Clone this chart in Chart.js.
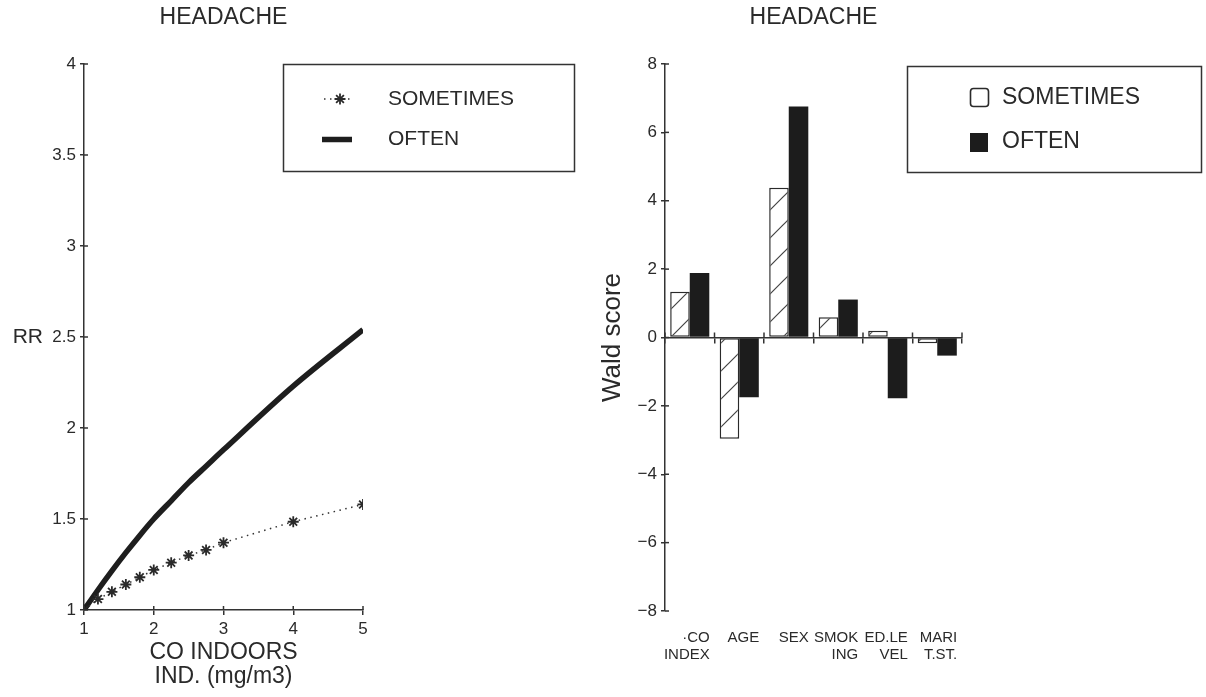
<!DOCTYPE html>
<html>
<head>
<meta charset="utf-8">
<script src="https://cdn.jsdelivr.net/npm/chart.js@4.4.1/dist/chart.umd.min.js"></script>
<style>
  html, body { margin: 0; padding: 0; background: #ffffff; }
  #wrap { position: relative; width: 1206px; height: 697px; overflow: hidden; background: #fff; }
  #left { position: absolute; left: 0; top: 0; }
  #right { position: absolute; left: 560px; top: 0; }
</style>
</head>
<body>
<div id="wrap">
  <canvas id="left" width="600" height="697"></canvas>
  <canvas id="right" width="646" height="697"></canvas>
</div>
<script>
// ---------- DATA ----------
const chartTitle = 'HEADACHE';
const seriesNames = ['SOMETIMES', 'OFTEN'];

// Left panel: relative risk vs CO indoors index
const coIndoors   = [1, 1.2, 1.4, 1.6, 1.8, 2, 2.25, 2.5, 2.75, 3, 4, 5];
const rrSometimes = [1.0, 1.06, 1.10, 1.14, 1.18, 1.22, 1.26, 1.30, 1.33, 1.37, 1.485, 1.58];
const rrOften     = [1.0, 1.11, 1.215, 1.315, 1.41, 1.50, 1.60, 1.70, 1.79, 1.88, 2.23, 2.54];
const rrAxis = { min: 1, max: 4, step: 0.5 };
const coAxis = { min: 1, max: 5, step: 1 };
const xTitleLeft = ['CO INDOORS', 'IND. (mg/m3)'];
const yTitleLeft = 'RR';

// Right panel: Wald scores per factor
const factors = [['\u00B7CO', 'INDEX'], 'AGE', 'SEX', ['SMOK', 'ING'], ['ED.LE', 'VEL'], ['MARI', 'T.ST.']];
const waldSometimes = [1.34, -2.96, 4.38, 0.59, 0.20, -0.17];
const waldOften     = [1.89, -1.75, 6.76, 1.11, -1.78, -0.53];
const waldAxis = { min: -8, max: 8, step: 2 };
const yTitleRight = 'Wald score';

// ---------- STYLE ----------
const FONT = "'Liberation Sans', Arial, Helvetica, sans-serif";
const INK = '#2a2a2a';
const AXC = '#333333';
Chart.defaults.font.family = FONT;
Chart.defaults.color = INK;

function line(ctx, x1, y1, x2, y2) { ctx.beginPath(); ctx.moveTo(x1, y1); ctx.lineTo(x2, y2); ctx.stroke(); }

function hatchPattern(ctx) {
  const s = 28;
  const c = document.createElement('canvas');
  c.width = s; c.height = s;
  const g = c.getContext('2d');
  g.fillStyle = '#ffffff';
  g.fillRect(0, 0, s, s);
  g.strokeStyle = '#444444';
  g.lineWidth = 1.2;
  g.beginPath();
  g.moveTo(-2, s + 2); g.lineTo(s + 2, -2);
  g.moveTo(-2, 2); g.lineTo(2, -2);
  g.moveTo(s - 2, s + 2); g.lineTo(s + 2, s - 2);
  g.stroke();
  return ctx.createPattern(c, 'repeat');
}

const titlePlugin = {
  id: 'panelTitle',
  afterDraw(chart) {
    const { ctx, chartArea: a } = chart;
    ctx.save();
    ctx.fillStyle = INK;
    ctx.font = '23px ' + FONT;
    ctx.textAlign = 'center';
    ctx.textBaseline = 'middle';
    ctx.fillText(chartTitle, (a.left + a.right) / 2, 18);
    ctx.restore();
  }
};

// ---------- LEFT CHART ----------
const leftCtx = document.getElementById('left').getContext('2d');

const leftDecor = {
  id: 'leftDecor',
  afterDraw(chart) {
    const { ctx, chartArea: a, scales: { x, y } } = chart;
    ctx.save();
    ctx.strokeStyle = AXC;
    ctx.lineWidth = 1.5;
    x.ticks.forEach((t, i) => { const p = x.getPixelForTick(i); line(ctx, p, a.bottom, p, a.bottom - 4); });
    y.ticks.forEach((t, i) => { const p = y.getPixelForTick(i); line(ctx, a.left, p, a.left + 4, p); });
    // RR label
    ctx.fillStyle = INK;
    ctx.font = '21px ' + FONT;
    ctx.textAlign = 'right';
    ctx.textBaseline = 'middle';
    ctx.fillText(yTitleLeft, 43, y.getPixelForValue(2.5));
    // legend box
    ctx.lineWidth = 1.5;
    ctx.strokeRect(283.5, 64.5, 291, 107);
    const ds = chart.data.datasets;
    // Sometimes symbol
    ctx.save();
    ctx.strokeStyle = ds[0].borderColor;
    ctx.lineWidth = 1.5;
    ctx.setLineDash(ds[0].borderDash);
    line(ctx, 324, 99, 353, 99);
    ctx.restore();
    ctx.strokeStyle = ds[0].pointBorderColor;
    ctx.fillStyle = ds[0].pointBackgroundColor;
    ctx.lineWidth = ds[0].pointBorderWidth;
    Chart.helpers.drawPoint(ctx, { pointStyle: 'star', radius: ds[0].pointRadius, borderWidth: ds[0].pointBorderWidth }, 340, 99);
    // Often symbol
    ctx.strokeStyle = ds[1].borderColor;
    ctx.lineWidth = ds[1].borderWidth;
    line(ctx, 322, 139.5, 352, 139.5);
    ctx.fillStyle = INK;
    ctx.font = '21px ' + FONT;
    ctx.textAlign = 'left';
    ctx.fillText(seriesNames[0], 388, 99);
    ctx.fillText(seriesNames[1], 388, 139.5);
    ctx.restore();
  }
};

new Chart(leftCtx, {
  type: 'line',
  data: {
    datasets: [
      {
        label: seriesNames[0],
        data: coIndoors.map((v, i) => ({ x: v, y: rrSometimes[i] })),
        borderColor: '#333333',
        borderWidth: 1.5,
        borderDash: [1.5, 4.5],
        pointStyle: 'star',
        pointRadius: 5.5,
        pointBorderWidth: 1.8,
        pointBorderColor: '#2a2a2a',
        pointBackgroundColor: '#2a2a2a',
        tension: 0,
        fill: false
      },
      {
        label: seriesNames[1],
        data: coIndoors.map((v, i) => ({ x: v, y: rrOften[i] })),
        borderColor: '#1e1e1e',
        borderWidth: 5.5,
        pointRadius: 0,
        cubicInterpolationMode: 'monotone',
        fill: false
      }
    ]
  },
  options: {
    responsive: false,
    animation: false,
    events: [],
    layout: { padding: { top: 64, right: 237, left: 0, bottom: 0 } },
    plugins: { legend: { display: false }, tooltip: { enabled: false } },
    scales: {
      x: {
        type: 'linear',
        min: coAxis.min, max: coAxis.max,
        afterFit(s) { s.height = 87; },
        ticks: { stepSize: coAxis.step, font: { size: 17 }, padding: 4, color: INK, callback: v => String(v) },
        grid: { display: true, drawOnChartArea: false, tickLength: 5, color: AXC, lineWidth: 1.5 },
        border: { display: true, color: AXC, width: 1.5 },
        title: { display: true, text: xTitleLeft, font: { size: 23, lineHeight: '24px' }, padding: { top: 0, bottom: 8 }, color: INK }
      },
      y: {
        type: 'linear',
        min: rrAxis.min, max: rrAxis.max,
        afterFit(s) { s.width = 84; },
        ticks: { stepSize: rrAxis.step, font: { size: 17 }, padding: 4, color: INK, callback: v => String(v) },
        grid: { display: true, drawOnChartArea: false, tickLength: 4, color: AXC, lineWidth: 1.5 },
        border: { display: true, color: AXC, width: 1.5 }
      }
    }
  },
  plugins: [titlePlugin, leftDecor]
});

// ---------- RIGHT CHART ----------
const rightCtx = document.getElementById('right').getContext('2d');
const hatch = hatchPattern(rightCtx);

const rightDecor = {
  id: 'rightDecor',
  afterDraw(chart) {
    const { ctx, chartArea: a, scales: { x, y } } = chart;
    ctx.save();
    ctx.strokeStyle = AXC;
    ctx.lineWidth = 1.5;
    y.ticks.forEach((t, i) => { const p = y.getPixelForTick(i); line(ctx, a.left, p, a.left + 4, p); });
    const n = x.ticks.length, y0 = y.getPixelForValue(0);
    for (let i = 0; i <= n; i++) { const p = x.left + i * x.width / n; line(ctx, p, y0, p, y0 - 5); }
    // legend
    ctx.strokeRect(347.5, 66.5, 294, 106);
    const ds = chart.data.datasets;
    ctx.lineWidth = 1.6;
    ctx.strokeStyle = '#2a2a2a';
    ctx.fillStyle = '#ffffff';
    ctx.beginPath();
    ctx.roundRect(410.5, 88.5, 18, 18, 3);
    ctx.fill(); ctx.stroke();
    ctx.fillStyle = ds[1].backgroundColor;
    ctx.fillRect(410, 133, 18, 19);
    ctx.fillStyle = INK;
    ctx.font = '23px ' + FONT;
    ctx.textAlign = 'left';
    ctx.textBaseline = 'middle';
    ctx.fillText(seriesNames[0], 442, 97.5);
    ctx.fillText(seriesNames[1], 442, 142);
    ctx.restore();
  }
};

new Chart(rightCtx, {
  type: 'bar',
  data: {
    labels: factors,
    datasets: [
      {
        label: seriesNames[0],
        data: waldSometimes,
        backgroundColor: hatch,
        borderColor: '#2a2a2a',
        borderWidth: 1.5,
        borderSkipped: false
      },
      {
        label: seriesNames[1],
        data: waldOften,
        backgroundColor: '#1c1c1c',
        borderWidth: 0
      }
    ]
  },
  options: {
    responsive: false,
    animation: false,
    events: [],
    categoryPercentage: 0.79,
    barPercentage: 1.0,
    layout: { padding: { top: 64, right: 244, left: 0, bottom: 0 } },
    plugins: { legend: { display: false }, tooltip: { enabled: false } },
    scales: {
      x: {
        type: 'category',
        position: { y: 0 },
        offset: true,
        ticks: { display: false },
        grid: { display: true, offset: true, drawOnChartArea: false, tickLength: 5, color: AXC, lineWidth: 1.5 },
        border: { display: true, color: AXC, width: 1.5 }
      },
      xl: {
        type: 'category',
        position: 'bottom',
        offset: true,
        labels: factors,
        afterFit(s) { s.height = 86; },
        ticks: { font: { size: 15, lineHeight: '17px' }, align: 'end', labelOffset: 20, padding: 10.5, autoSkip: false, maxRotation: 0, minRotation: 0, color: INK },
        grid: { display: false },
        border: { display: false }
      },
      y: {
        type: 'linear',
        min: waldAxis.min, max: waldAxis.max,
        afterFit(s) { s.width = 105; },
        ticks: {
          stepSize: waldAxis.step, font: { size: 17 }, padding: 4, color: INK,
          callback: v => (v < 0 ? '\u2212' + Math.abs(v) : String(v))
        },
        grid: { display: true, drawOnChartArea: false, tickLength: 4, color: AXC, lineWidth: 1.5 },
        border: { display: true, color: AXC, width: 1.5 },
        title: { display: true, text: yTitleRight, font: { size: 26 }, padding: { top: 37, bottom: 0 }, color: INK }
      }
    }
  },
  plugins: [titlePlugin, rightDecor]
});
</script>
</body>
</html>
